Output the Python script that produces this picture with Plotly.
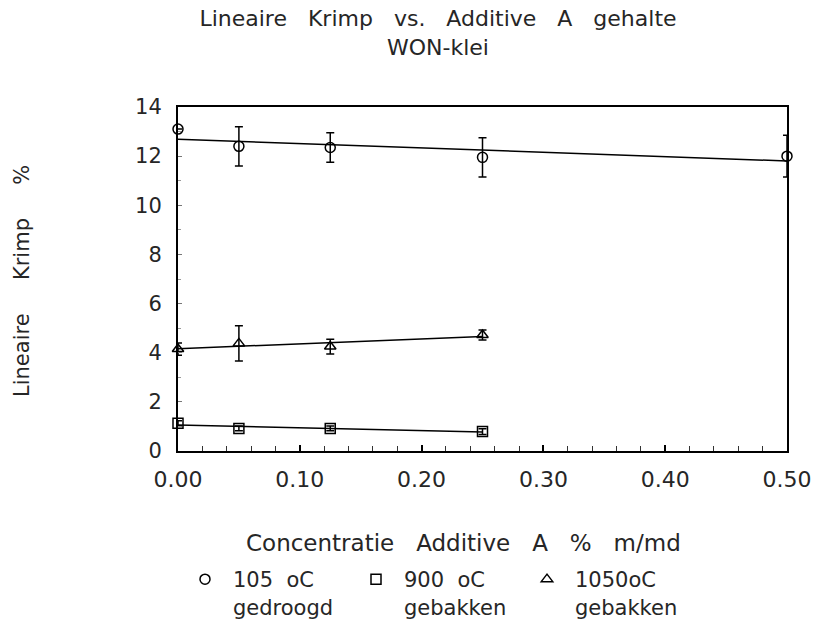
import numpy as np
import plotly.graph_objects as go

NB = "\u00a0"

# ---- data ----
conc_105 = [0.0, 0.05, 0.125, 0.25, 0.5]
krimp_105 = [13.1, 12.4, 12.35, 11.95, 12.0]
err_105 = [0.0, 0.8, 0.6, 0.8, 0.85]

conc_900 = [0.0, 0.05, 0.125, 0.25]
krimp_900 = [1.13, 0.92, 0.92, 0.79]
err_900 = [0.1, 0.1, 0.1, 0.12]

conc_1050 = [0.0, 0.05, 0.125, 0.25]
krimp_1050 = [4.15, 4.38, 4.25, 4.72]
err_1050 = [0.25, 0.72, 0.3, 0.2]

series_names = ["105" + NB * 2 + "oC<br>gedroogd",
                "900" + NB * 2 + "oC<br>gebakken",
                "1050oC<br>gebakken"]

x_tick_vals = [0.0, 0.1, 0.2, 0.3, 0.4, 0.5]
x_tick_text = ["0.00", "0.10", "0.20", "0.30", "0.40", "0.50"]
y_tick_vals = [0, 2, 4, 6, 8, 10, 12, 14]

FONT = "DejaVu Sans"
TXT = "#262626"

fig = go.Figure()

series = [
    (conc_105, krimp_105, err_105, "circle-open", series_names[0]),
    (conc_900, krimp_900, err_900, "square-open", series_names[1]),
    (conc_1050, krimp_1050, err_1050, "triangle-up-open", series_names[2]),
]

for xs, ys, es, sym, name in series:
    # linear regression line through the data
    k, b = np.polyfit(xs, ys, 1)
    xfit = np.array([min(xs), max(xs)])
    fig.add_trace(go.Scatter(
        x=xfit, y=k * xfit + b, mode="lines",
        line=dict(color="black", width=1.5),
        showlegend=False, hoverinfo="skip", cliponaxis=False,
    ))
    fig.add_trace(go.Scatter(
        x=xs, y=ys, mode="markers", name=name,
        marker=dict(symbol=sym, size=10, color="black",
                    line=dict(color="black", width=1.5)),
        error_y=dict(type="data", array=es, visible=True,
                     color="black", thickness=1.5, width=4),
        cliponaxis=False,
    ))

fig.update_layout(
    width=819, height=636,
    margin=dict(l=178, r=32, t=107, b=185, autoexpand=False),
    paper_bgcolor="white", plot_bgcolor="white",
    font=dict(family=FONT, color=TXT, size=20),
    title=dict(
        text=("Lineaire" + NB * 3 + "Krimp" + NB * 3 + "vs." + NB * 3 +
              "Additive" + NB * 3 + "A" + NB * 3 + "gehalte<br>WON-klei"),
        x=438 / 819, xanchor="center", xref="container",
        y=1 - 26 / 636, yanchor="top", yref="container",
        font=dict(family=FONT, size=22, color=TXT),
    ),
    showlegend=True,
    legend=dict(
        orientation="h", x=(177 - 178) / 609, xanchor="left",
        y=(451 - 559) / 344, yanchor="top",
        font=dict(family=FONT, size=21, color=TXT),
        valign="top", itemwidth=46,
        entrywidth=110, entrywidthmode="pixels",
        bgcolor="rgba(0,0,0,0)",
    ),
    xaxis=dict(
        range=[0, 0.5], tickvals=x_tick_vals, ticktext=x_tick_text,
        ticks="inside", ticklen=6, tickwidth=1.5, tickcolor="black",
        minor=dict(dtick=0.02, tick0=0, ticks="inside", ticklen=5,
                   tickwidth=1.2, tickcolor="#333"),
        showline=True, linewidth=2, linecolor="black", mirror=True,
        showgrid=False, zeroline=False, automargin=False,
        ticklabelstandoff=8,
        tickfont=dict(family=FONT, size=22, color=TXT),
    ),
    yaxis=dict(
        range=[0, 14], tickvals=y_tick_vals,
        ticks="inside", ticklen=4, tickwidth=1, tickcolor="#777",
        minor=dict(dtick=1, tick0=0, ticks="inside", ticklen=3,
                   tickwidth=1, tickcolor="#999"),
        showline=True, linewidth=2, linecolor="black", mirror=True,
        showgrid=False, zeroline=False, automargin=False,
        ticklabelstandoff=10,
        tickfont=dict(family=FONT, size=21, color=TXT),
    ),
    annotations=[
        dict(text="Lineaire" + NB * 5 + "Krimp" + NB * 5 + "%",
             xref="paper", yref="paper",
             x=(22 - 178) / 609, y=(451 - 281) / 344,
             xanchor="center", yanchor="middle", textangle=-90,
             showarrow=False, font=dict(family=FONT, size=21, color=TXT)),
        dict(text=("Concentratie" + NB * 3 + "Additive" + NB * 3 + "A" +
                   NB * 3 + "%" + NB * 3 + "m/md"),
             xref="paper", yref="paper",
             x=(463 - 178) / 609, y=(451 - 543) / 344,
             xanchor="center", yanchor="middle",
             showarrow=False, font=dict(family=FONT, size=23, color=TXT)),
    ],
)

fig.write_html("out.html",
               config={"displayModeBar": False},
               post_script="document.body.style.margin='0';")
